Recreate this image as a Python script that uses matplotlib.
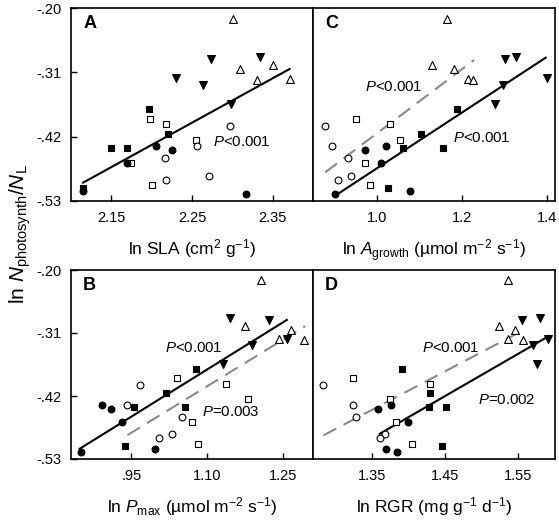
import numpy as np
import matplotlib
matplotlib.use("Agg")
import matplotlib.pyplot as plt

# --- DATA ---
# y values are shared by all four panels (same response variable)
# groups: open triangle, filled down-triangle, filled square, open square, filled circle, open circle
y_open_tri = [-0.218, -0.298, -0.3045, -0.321, -0.323]
y_fill_tri = [-0.283, -0.287, -0.320, -0.331, -0.364]
y_fill_sq = [-0.3725, -0.415, -0.440, -0.440, -0.507]
y_open_sq = [-0.389, -0.399, -0.425, -0.465, -0.503]
y_fill_circ = [-0.4355, -0.442, -0.465, -0.513, -0.5185]
y_open_circ = [-0.401, -0.4355, -0.4565, -0.487, -0.4935]

# panel A: ln SLA
a_open_tri = [2.301, 2.350, 2.310, 2.371, 2.331]
a_fill_tri = [2.334, 2.274, 2.230, 2.264, 2.298]
a_fill_sq = [2.197, 2.220, 2.150, 2.169, 2.115]
a_open_sq = [2.198, 2.218, 2.255, 2.175, 2.201]
a_fill_circ = [2.205, 2.225, 2.170, 2.115, 2.317]
a_open_circ = [2.297, 2.256, 2.216, 2.271, 2.218]

# panel C: ln A growth
c_open_tri = [1.165, 1.130, 1.181, 1.215, 1.226]
c_fill_tri = [1.328, 1.303, 1.400, 1.297, 1.279]
c_fill_sq = [1.189, 1.104, 1.061, 1.155, 1.025]
c_open_sq = [0.949, 1.029, 1.053, 0.972, 0.982]
c_fill_circ = [1.021, 0.972, 1.008, 1.078, 0.901]
c_open_circ = [0.877, 0.893, 0.931, 0.937, 0.908]

# panel B: ln Pmax
b_open_tri = [1.207, 1.176, 1.267, 1.243, 1.293]
b_fill_tri = [1.146, 1.223, 1.258, 1.190, 1.132]
b_fill_sq = [1.078, 1.019, 0.954, 1.057, 0.937]
b_open_sq = [1.040, 1.137, 1.181, 1.070, 1.082]
b_fill_circ = [0.891, 0.910, 0.931, 0.997, 0.849]
b_open_circ = [0.967, 0.941, 1.050, 1.031, 1.004]

# panel D: ln RGR
d_open_tri = [1.536, 1.524, 1.546, 1.536, 1.556]
d_fill_tri = [1.579, 1.555, 1.590, 1.570, 1.575]
d_fill_sq = [1.391, 1.430, 1.428, 1.452, 1.446]
d_open_sq = [1.325, 1.430, 1.375, 1.383, 1.405]
d_fill_circ = [1.377, 1.358, 1.400, 1.369, 1.385]
d_open_circ = [1.284, 1.324, 1.329, 1.368, 1.361]

# regression line end points (x, y)
a_fit_x, a_fit_y = [2.115, 2.371], [-0.4986, -0.3043]
c_fit_x, c_fit_y = [0.903, 1.398], [-0.5197, -0.2849]
c_dash_x, c_dash_y = [0.877, 1.229], [-0.4809, -0.2889]
b_fit_x, b_fit_y = [0.847, 1.258], [-0.5123, -0.2872]
b_dash_x, b_dash_y = [0.942, 1.2945], [-0.4883, -0.2980]
d_fit_x, d_fit_y = [1.361, 1.592], [-0.4860, -0.3151]
d_dash_x, d_dash_y = [1.284, 1.558], [-0.4889, -0.3043]

y_ticks = [-0.20, -0.31, -0.42, -0.53]
y_ticklabels = ['-.20', '-.31', '-.42', '-.53']

# --- STYLE ---
plt.rcParams['font.family'] = ['Liberation Sans', 'DejaVu Sans']
plt.rcParams['mathtext.fontset'] = 'custom'
plt.rcParams['mathtext.rm'] = 'Liberation Sans'
plt.rcParams['mathtext.it'] = 'Liberation Sans:italic'
plt.rcParams['mathtext.bf'] = 'Liberation Sans:bold'

GRAY = '#8a8a8a'

fig = plt.figure(figsize=(5.59, 5.27), dpi=100)
W, H = 559.0, 527.0


def make_ax(x0, y0, x1, y1):
    return fig.add_axes([x0 / W, 1 - y1 / H, (x1 - x0) / W, (y1 - y0) / H])


ax_a = make_ax(71, 8, 313, 201)
ax_c = make_ax(313, 8, 555, 201)
ax_b = make_ax(71, 270, 313, 459)
ax_d = make_ax(313, 270, 555, 459)


def draw_points(ax, xs):
    ot, ft, fs, os_, fc, oc = xs
    kw = dict(linewidths=0.8, zorder=3)
    ax.scatter(ot, y_open_tri, marker='^', s=32, facecolors='white', edgecolors='black', **kw)
    ax.scatter(ft, y_fill_tri, marker='v', s=32, facecolors='black', edgecolors='black', **kw)
    ax.scatter(fs, y_fill_sq, marker='s', s=24, facecolors='black', edgecolors='black', **kw)
    ax.scatter(os_, y_open_sq, marker='s', s=24, facecolors='white', edgecolors='black', **kw)
    ax.scatter(fc, y_fill_circ, marker='o', s=24, facecolors='black', edgecolors='black', **kw)
    ax.scatter(oc, y_open_circ, marker='o', s=24, facecolors='white', edgecolors='black', **kw)


def style_ax(ax, xlim, xticks, xticklabels, left=True):
    ax.set_xlim(*xlim)
    ax.set_ylim(-0.53, -0.20)
    ax.set_xticks(xticks)
    ax.set_xticklabels(xticklabels)
    ax.tick_params(direction='in', length=4, width=1, labelsize=10.5, pad=7)
    if left:
        ax.set_yticks(y_ticks)
        ax.set_yticklabels(y_ticklabels)
    else:
        ax.set_yticks([])
    for sp in ax.spines.values():
        sp.set_linewidth(1.2)


draw_points(ax_a, [a_open_tri, a_fill_tri, a_fill_sq, a_open_sq, a_fill_circ, a_open_circ])
draw_points(ax_c, [c_open_tri, c_fill_tri, c_fill_sq, c_open_sq, c_fill_circ, c_open_circ])
draw_points(ax_b, [b_open_tri, b_fill_tri, b_fill_sq, b_open_sq, b_fill_circ, b_open_circ])
draw_points(ax_d, [d_open_tri, d_fill_tri, d_fill_sq, d_open_sq, d_fill_circ, d_open_circ])

# regression lines
ax_a.plot(a_fit_x, a_fit_y, color='black', lw=1.5, zorder=2)
ax_c.plot(c_fit_x, c_fit_y, color='black', lw=1.5, zorder=2)
ax_c.plot(c_dash_x, c_dash_y, color=GRAY, lw=1.5, dashes=(7, 4), zorder=2)
ax_b.plot(b_fit_x, b_fit_y, color='black', lw=1.5, zorder=2)
ax_b.plot(b_dash_x, b_dash_y, color=GRAY, lw=1.5, dashes=(7, 4), zorder=2)
ax_d.plot(d_fit_x, d_fit_y, color='black', lw=1.5, zorder=2)
ax_d.plot(d_dash_x, d_dash_y, color=GRAY, lw=1.5, dashes=(7, 4), zorder=2)

style_ax(ax_a, (2.10, 2.40), [2.15, 2.25, 2.35], ['2.15', '2.25', '2.35'])
style_ax(ax_c, (0.848, 1.42), [1.0, 1.2, 1.4], ['1.0', '1.2', '1.4'], left=False)
style_ax(ax_b, (0.83, 1.31), [0.95, 1.10, 1.25], ['.95', '1.10', '1.25'])
style_ax(ax_d, (1.27, 1.60), [1.35, 1.45, 1.55], ['1.35', '1.45', '1.55'], left=False)

# --- TEXT ---
pfs = 10.8
ax_a.text(2.276, -0.4285, '$P$<0.001', fontsize=pfs, va='center')
ax_c.text(0.970, -0.3356, '$P$<0.001', fontsize=pfs, va='center')
ax_c.text(1.179, -0.4228, '$P$<0.001', fontsize=pfs, va='center')
ax_b.text(1.017, -0.3356, '$P$<0.001', fontsize=pfs, va='center')
ax_b.text(1.090, -0.4479, '$P$=0.003', fontsize=pfs, va='center')
ax_d.text(1.418, -0.3356, '$P$<0.001', fontsize=pfs, va='center')
ax_d.text(1.495, -0.4262, '$P$=0.002', fontsize=pfs, va='center')

for ax, letter in [(ax_a, 'A'), (ax_c, 'C'), (ax_b, 'B'), (ax_d, 'D')]:
    ax.text(0.05, 0.92, letter, transform=ax.transAxes, fontsize=13,
            fontweight='bold', va='center', ha='left')

lfs = 12.5
ax_a.set_xlabel('ln SLA (cm$^{2}$ g$^{-1}$)', fontsize=lfs, labelpad=9)
ax_c.set_xlabel('ln $A_{\\rm growth}$ (\u00b5mol m$^{-2}$ s$^{-1}$)', fontsize=lfs, labelpad=9)
ax_b.set_xlabel('ln $P_{\\rm max}$ (\u00b5mol m$^{-2}$ s$^{-1}$)', fontsize=lfs, labelpad=9)
ax_d.set_xlabel('ln RGR (mg g$^{-1}$ d$^{-1}$)', fontsize=lfs, labelpad=9)

fig.text(0.036, 0.555, 'ln $N_{\\rm photosynth}/N_{\\rm L}$', rotation=90,
         fontsize=15, va='center', ha='center')

fig.savefig('out.png', dpi=100)
